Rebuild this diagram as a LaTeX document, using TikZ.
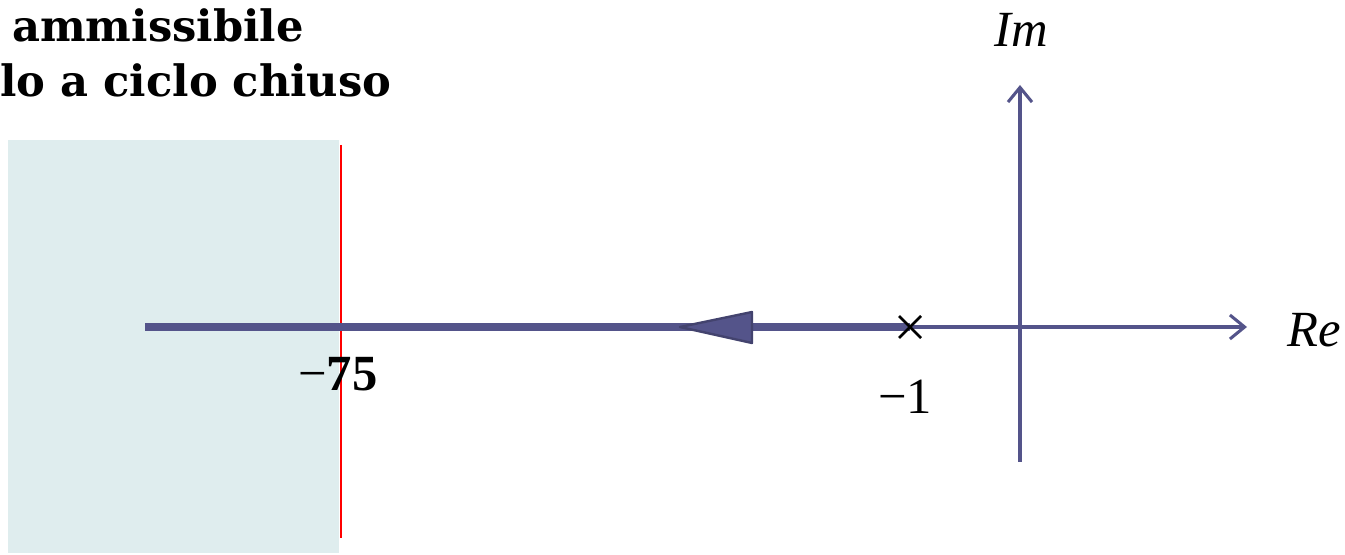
\documentclass[tikz,border=0pt]{standalone}
\usepackage{fontspec}
\setmainfont{DejaVu Serif}
\newfontfamily\mfont{Liberation Serif}
\usetikzlibrary{arrows.meta}
\definecolor{axiscol}{RGB}{84,84,138}
\definecolor{regioncol}{RGB}{223,237,238}
\tikzset{
  axisline/.style={draw=axiscol, line width=2.3pt, -{Straight Barb[length=11pt,width=18pt,line width=2.3pt]}},
  locus/.style={draw=axiscol, line width=5.8pt},
  bigtip/.style={draw=axiscol!80!black, fill=axiscol, line width=1.8pt, line join=round},
  mlabel/.style={inner sep=0pt, font=\mfont\fontsize{38}{44}\selectfont},
  titletext/.style={inner sep=0pt, anchor=base west, font=\fontsize{32.4}{38}\selectfont\bfseries}
}
\begin{document}
\begin{tikzpicture}[x=0.75pt,y=-0.75pt]
\useasboundingbox (0,0) rectangle (1345,555);
\fill[regioncol] (8,140) rectangle (339,553);
\coordinate (redtop) at (341,145);
\coordinate (redbot) at (341,538);
\draw[red, line width=1.2pt] (redtop) -- (redbot);
% axes
\coordinate (imbot) at (1020,462);
\coordinate (imtop) at (1020,85);
\coordinate (rest) at (905,327);
\coordinate (reend) at (1247,327);
\draw[axisline] (rest) -- (reend);
\draw[axisline] (imbot) -- (imtop);
% locus
\coordinate (locstart) at (145,327);
\node[inner sep=0pt, minimum size=1pt] (pole) at (910,327) {};
\draw[locus] (locstart) -- (pole.center);
\coordinate (tipA) at (680,327);
\coordinate (tipB) at (752,312);
\coordinate (tipC) at (752,343);
\draw[bigtip] (tipA) -- (tipB) -- (tipC) -- cycle;
% cross
\draw[black, line width=2pt] (899,316) -- (921,338) (899,338) -- (921,316);
% labels
\node[mlabel] (lm1) at (905,397) {−1};
\node[mlabel] (l75) at (338,374) {−\textbf{75}};
\node[mlabel] (lim) at (1021,30) {\itshape Im};
\node[mlabel] (lre) at (1314,330) {\itshape Re};
\node[titletext] (t1) at (12,42) {ammissibile};
\node[titletext] (t2) at (0,97) {lo a ciclo chiuso};
\end{tikzpicture}
\end{document}
